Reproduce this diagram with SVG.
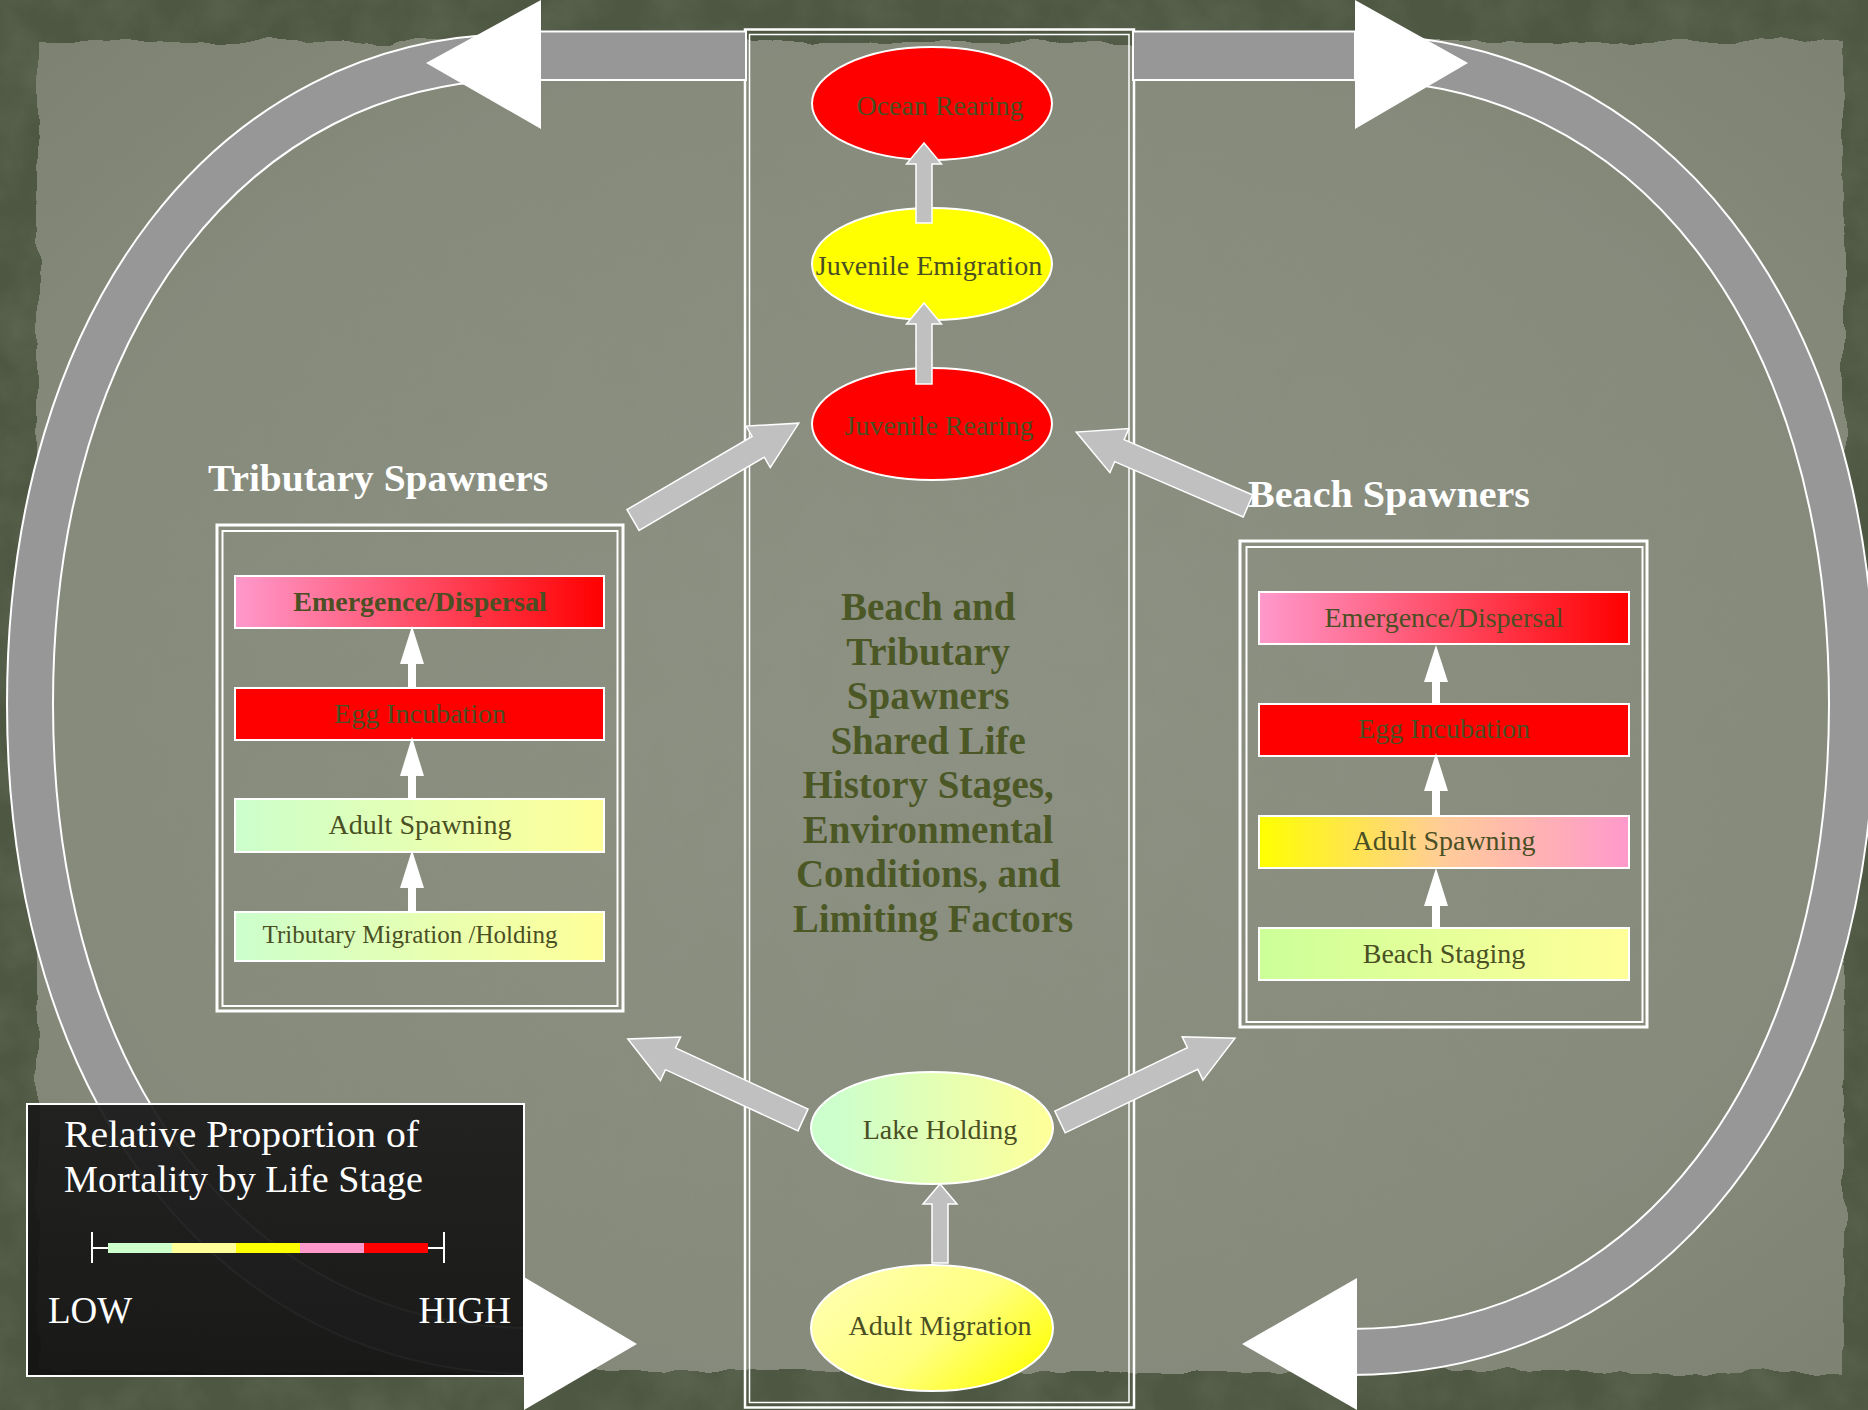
<svg xmlns="http://www.w3.org/2000/svg" width="1868" height="1410" viewBox="0 0 1868 1410">
<style>
.t{font-family:"Liberation Serif","Times New Roman",serif;fill:#4a4f24;text-anchor:middle}
.b{font-weight:bold}
.w{fill:#ffffff}
.node{stroke:#ffffff;stroke-width:2}
.garr{fill:#c0c0c0;stroke:#ffffff;stroke-width:1.5}
.warr{fill:#ffffff}
.frame{fill:none;stroke:#ffffff}
</style>
<defs>
<linearGradient id="gPinkRed" x1="0" y1="0" x2="1" y2="0"><stop offset="0" stop-color="#ff99cc"/><stop offset="1" stop-color="#ff0000"/></linearGradient>
<linearGradient id="gMintYel" x1="0" y1="0" x2="1" y2="0"><stop offset="0" stop-color="#ccffcc"/><stop offset="1" stop-color="#ffff99"/></linearGradient>
<linearGradient id="gGreenYel" x1="0" y1="0" x2="1" y2="0"><stop offset="0" stop-color="#ccff99"/><stop offset="1" stop-color="#ffff99"/></linearGradient>
<linearGradient id="gYelPink" x1="0" y1="0" x2="1" y2="0"><stop offset="0" stop-color="#ffff00"/><stop offset="0.5" stop-color="#ffcc99"/><stop offset="1" stop-color="#ff99cc"/></linearGradient>
<linearGradient id="gLake" x1="0" y1="0" x2="1" y2="0"><stop offset="0.1" stop-color="#ccffcc"/><stop offset="1" stop-color="#ffff99"/></linearGradient>
<linearGradient id="gAdult" x1="0" y1="0.2" x2="1" y2="0.8"><stop offset="0" stop-color="#ffffb0"/><stop offset="0.55" stop-color="#ffff80"/><stop offset="1" stop-color="#ffff00"/></linearGradient>
<radialGradient id="gPaper" cx="0.5" cy="0.5" r="0.7"><stop offset="0" stop-color="#8e9284"/><stop offset="0.7" stop-color="#878b7c"/><stop offset="1" stop-color="#7d8272"/></radialGradient>
<linearGradient id="gLegend" x1="0" y1="0" x2="0" y2="1"><stop offset="0" stop-color="#1a1a1a"/><stop offset="1" stop-color="#111111"/></linearGradient>
<filter id="torn" x="-5%" y="-5%" width="110%" height="110%">
<feTurbulence type="fractalNoise" baseFrequency="0.02" numOctaves="3" seed="7" result="n"/>
<feDisplacementMap in="SourceGraphic" in2="n" scale="14" xChannelSelector="R" yChannelSelector="G"/>
</filter>
<filter id="noise" x="0" y="0" width="100%" height="100%">
<feTurbulence type="fractalNoise" baseFrequency="0.02" numOctaves="4" seed="3"/>
<feColorMatrix type="matrix" values="0 0 0 0 0.22  0 0 0 0 0.25  0 0 0 0 0.18  0.9 0 0 0 -0.3"/>
</filter>
</defs>

<g id="background">
<rect x="0" y="0" width="1868" height="1410" fill="#4e5742"/>
<rect x="0" y="0" width="1868" height="1410" filter="url(#noise)" opacity="0.5"/>
<rect x="38" y="42" width="1806" height="1330" fill="url(#gPaper)" filter="url(#torn)"/>
<rect x="60" y="62" width="1760" height="1290" filter="url(#noise)" opacity="0.2"/>
</g>

<g id="center-frame">
<rect class="frame" x="745" y="29.5" width="389" height="1378" stroke-width="2.5"/>
<rect class="frame" x="749.5" y="34.5" width="379.5" height="1368" stroke-width="1.5"/>
</g>

<g id="connectors">
<g id="left-loop">
<path d="M 520 57 C 235 57 30 316 30 704 C 30 1092 235 1351 532 1351" fill="none" stroke="#ffffff" stroke-width="48"/>
<path d="M 520 57 C 235 57 30 316 30 704 C 30 1092 235 1351 532 1351" fill="none" stroke="#979797" stroke-width="44"/>
<rect x="540" y="31.5" width="206" height="48.5" fill="#979797" stroke="#ffffff" stroke-width="2"/>
<polygon points="541,0 426,63 541,129" fill="#ffffff"/>
<polygon points="524,1277 637,1344 524,1410" fill="#ffffff"/>
</g>
<g id="right-loop">
<path d="M 1350 57 C 1650 57 1852 316 1852 704 C 1852 1092 1650 1352 1350 1352" fill="none" stroke="#ffffff" stroke-width="48"/>
<path d="M 1350 57 C 1650 57 1852 316 1852 704 C 1852 1092 1650 1352 1350 1352" fill="none" stroke="#979797" stroke-width="44"/>
<rect x="1133" y="31.5" width="222" height="48.5" fill="#979797" stroke="#ffffff" stroke-width="2"/>
<polygon points="1355,0 1468,63 1355,129" fill="#ffffff"/>
<polygon points="1357,1278 1242,1344 1357,1410" fill="#ffffff"/>
</g>
</g>

<g id="node-ocean-rearing">
<ellipse class="node" cx="932" cy="103.5" rx="120" ry="56.5" fill="#ff0000"/>
<text class="t" x="940" y="115" font-size="28">Ocean Rearing</text>
</g>
<g id="node-juvenile-emigration">
<ellipse class="node" cx="932" cy="264" rx="120" ry="56" fill="#ffff00"/>
<text class="t" x="929" y="275" font-size="28">Juvenile Emigration</text>
</g>
<g id="node-juvenile-rearing">
<ellipse class="node" cx="932" cy="424" rx="120" ry="56" fill="#ff0000"/>
<text class="t" x="939" y="435" font-size="28">Juvenile Rearing</text>
</g>
<g id="node-lake-holding">
<ellipse class="node" cx="932" cy="1128" rx="121" ry="56" fill="url(#gLake)"/>
<text class="t" x="940" y="1139" font-size="28">Lake Holding</text>
</g>
<g id="node-adult-migration">
<ellipse class="node" cx="932" cy="1328" rx="121" ry="63" fill="url(#gAdult)"/>
<text class="t" x="940" y="1335" font-size="28">Adult Migration</text>
</g>

<g id="center-title">
<text class="t b" font-size="39" style="fill:#4b5826">
<tspan x="933" y="620">Beach and</tspan>
<tspan x="933" y="665">Tributary</tspan>
<tspan x="933" y="709">Spawners</tspan>
<tspan x="933" y="754">Shared Life</tspan>
<tspan x="933" y="798">History Stages,</tspan>
<tspan x="933" y="843">Environmental</tspan>
<tspan x="933" y="887">Conditions, and</tspan>
<tspan x="933" y="932">Limiting Factors</tspan>
</text>
</g>

<g id="tributary-spawners">
<text class="t b w" x="378" y="491" font-size="37" textLength="340" lengthAdjust="spacingAndGlyphs">Tributary Spawners</text>
<rect class="frame" x="217" y="525" width="406" height="486" stroke-width="3"/>
<rect class="frame" x="222.5" y="531" width="395" height="475" stroke-width="2"/>
<g id="trib-emergence">
<rect class="node" x="235" y="576" width="369" height="52" fill="url(#gPinkRed)"/>
<text class="t b" x="420" y="611" font-size="28">Emergence/Dispersal</text>
</g>
<g id="trib-egg">
<rect class="node" x="235" y="688" width="369" height="52" fill="#ff0000"/>
<text class="t" x="420" y="723" font-size="28">Egg Incubation</text>
</g>
<g id="trib-adult-spawning">
<rect class="node" x="235" y="799" width="369" height="53" fill="url(#gMintYel)"/>
<text class="t" x="420" y="834" font-size="28">Adult Spawning</text>
</g>
<g id="trib-migration">
<rect class="node" x="235" y="912" width="369" height="49" fill="url(#gMintYel)"/>
<text class="t" x="410" y="943" font-size="25">Tributary Migration /Holding</text>
</g>
</g>

<g id="beach-spawners">
<text class="t b w" x="1389" y="507" font-size="37" textLength="282" lengthAdjust="spacingAndGlyphs">Beach Spawners</text>
<rect class="frame" x="1240" y="541" width="407" height="486" stroke-width="3"/>
<rect class="frame" x="1246.5" y="547" width="396" height="475" stroke-width="2"/>
<g id="beach-emergence">
<rect class="node" x="1259" y="592" width="370" height="52" fill="url(#gPinkRed)"/>
<text class="t" x="1444" y="627" font-size="28">Emergence/Dispersal</text>
</g>
<g id="beach-egg">
<rect class="node" x="1259" y="704" width="370" height="52" fill="#ff0000"/>
<text class="t" x="1444" y="738" font-size="28">Egg Incubation</text>
</g>
<g id="beach-adult-spawning">
<rect class="node" x="1259" y="816" width="370" height="52" fill="url(#gYelPink)"/>
<text class="t" x="1444" y="850" font-size="28">Adult Spawning</text>
</g>
<g id="beach-staging">
<rect class="node" x="1259" y="928" width="370" height="52" fill="url(#gGreenYel)"/>
<text class="t" x="1444" y="963" font-size="28">Beach Staging</text>
</g>
</g>

<g id="arrows">
<polygon class="garr" points="916,223 916,164 906.5,164 924,143 941.5,164 932,164 932,223"/>
<polygon class="garr" points="916,384 916,324 906.5,324 924,303 941.5,324 932,324 932,384"/>
<polygon class="garr" points="932,1263 932,1204 923,1204 940,1184 957,1204 948,1204 948,1263"/>
<polygon class="garr" transform="translate(633,520) rotate(-30.3)" points="0,-12 145,-12 145,-24 192,0 145,24 145,12 0,12"/>
<polygon class="garr" transform="translate(1248,506) rotate(203.3)" points="0,-12 140,-12 140,-24 187,0 140,24 140,12 0,12"/>
<polygon class="garr" transform="translate(803,1120) rotate(204.8)" points="0,-12 146,-12 146,-24 193,0 146,24 146,12 0,12"/>
<polygon class="garr" transform="translate(1060,1122) rotate(-25.6)" points="0,-12 147,-12 147,-24 194,0 147,24 147,12 0,12"/>
<polygon class="warr" points="408,688 408,664 400,664 412,626 424,664 416,664 416,688"/>
<polygon class="warr" points="408,799 408,776 400,776 412,737 424,776 416,776 416,799"/>
<polygon class="warr" points="408,912 408,888 400,888 412,850 424,888 416,888 416,912"/>
<polygon class="warr" points="1432,704 1432,682 1424,682 1436,645 1448,682 1440,682 1440,704"/>
<polygon class="warr" points="1432,816 1432,791 1424,791 1436,753 1448,791 1440,791 1440,816"/>
<polygon class="warr" points="1432,928 1432,906 1424,906 1436,868 1448,906 1440,906 1440,928"/>
</g>

<g id="legend">
<rect x="27" y="1104" width="497" height="272" fill="url(#gLegend)" fill-opacity="0.93" stroke="#ffffff" stroke-width="2"/>
<text class="t w" x="64" y="1147" font-size="37" style="text-anchor:start" textLength="355" lengthAdjust="spacingAndGlyphs">Relative Proportion of</text>
<text class="t w" x="64" y="1192" font-size="37" style="text-anchor:start" textLength="359" lengthAdjust="spacingAndGlyphs">Mortality by Life Stage</text>
<line x1="92" y1="1232" x2="92" y2="1263" stroke="#ffffff" stroke-width="2"/>
<line x1="444" y1="1232" x2="444" y2="1263" stroke="#ffffff" stroke-width="2"/>
<line x1="92" y1="1248" x2="109" y2="1248" stroke="#ffffff" stroke-width="2"/>
<line x1="428" y1="1248" x2="444" y2="1248" stroke="#ffffff" stroke-width="2"/>
<rect x="108" y="1243" width="64" height="10" fill="#ccffcc"/>
<rect x="172" y="1243" width="64" height="10" fill="#ffff99"/>
<rect x="236" y="1243" width="64" height="10" fill="#ffff00"/>
<rect x="300" y="1243" width="64" height="10" fill="#ff99cc"/>
<rect x="364" y="1243" width="64" height="10" fill="#ff0000"/>
<text class="t w" x="48" y="1323" font-size="37" style="text-anchor:start">LOW</text>
<text class="t w" x="511" y="1323" font-size="37" style="text-anchor:end">HIGH</text>
</g>
</svg>
